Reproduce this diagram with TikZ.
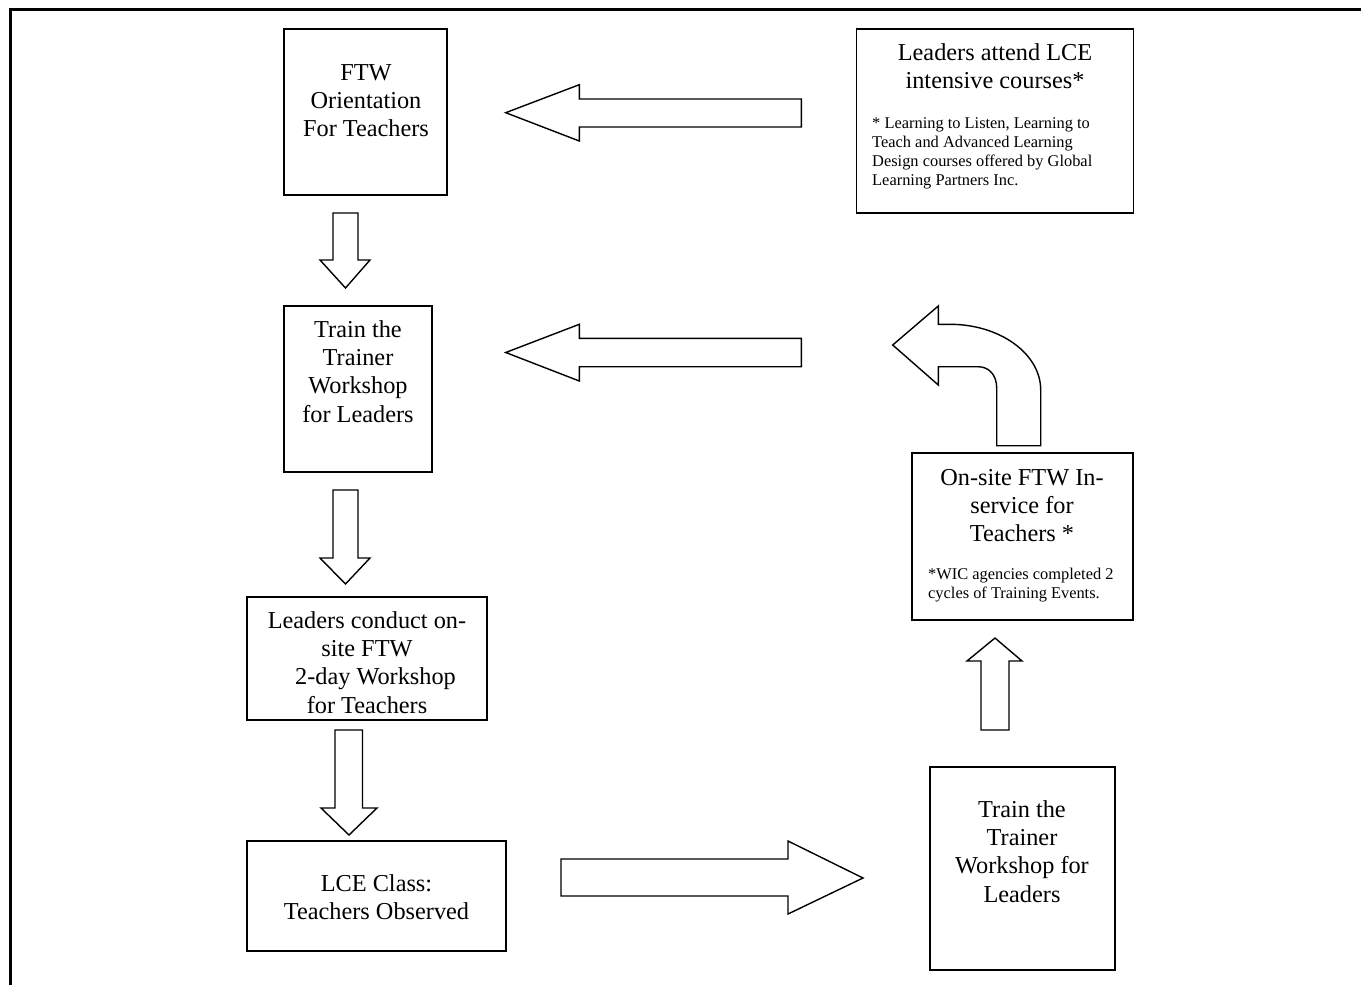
\documentclass[tikz,border=0pt]{standalone}
\usepackage{fontspec}
\setmainfont{Liberation Serif}
\begin{document}
\begin{tikzpicture}[x=1pt,y=-1pt,
  box/.style={draw, line width=1.4pt, inner sep=0pt, outer sep=0pt},
  big/.style={font=\fontsize{24.3}{28.4}\selectfont, align=center, inner sep=0pt, anchor=north},
  small/.style={font=\fontsize{16.4}{19}\selectfont, align=left, inner sep=0pt, anchor=north west},
  arr/.style={draw, line width=1.4pt, line join=miter, fill=white}]
\useasboundingbox (0,0) rectangle (1361,985);
\fill[white] (0,0) rectangle (1361,985);
% frame
\draw[line width=3pt] (1361,9) -- (10,9) -- (10,985);
% boxes
\node[box, minimum width=163, minimum height=166] (b1) at (365.5,112) {};
\node[box, minimum width=277, minimum height=184] (b2) at (995,121) {};
\node[box, minimum width=148, minimum height=166] (b3) at (358,389) {};
\node[box, minimum width=240, minimum height=123] (b4) at (367,658.5) {};
\node[box, minimum width=259, minimum height=110] (b5) at (376.5,896) {};
\node[box, minimum width=221, minimum height=167] (b6) at (1022.5,536.5) {};
\node[box, minimum width=185, minimum height=203] (b7) at (1022.5,868.5) {};
% texts
\node[big] (t1) at (366,60.1) {\strut FTW\\Orientation\\For Teachers};
\node[big] (t2) at (995,40.1) {\strut Leaders attend LCE\\intensive courses*};
\node[small] (s2) at (872,114.7) {\strut * Learning to Listen, Learning to\\Teach and Advanced Learning\\Design courses offered by Global\\Learning Partners Inc.};
\node[big] (t3) at (358,317.1) {\strut Train the\\Trainer\\Workshop\\for Leaders};
\node[big] (t4) at (367,608.1) {\strut Leaders conduct on-\\site FTW\\\hspace*{17pt}2-day Workshop\\for Teachers};
\node[big] (t5) at (376.5,871.1) {\strut LCE Class:\\Teachers Observed};
\node[big] (t6) at (1022,465.1) {\strut On-site FTW In-\\service for\\Teachers *};
\node[small] (s6) at (928,565.7) {\strut *WIC agencies completed 2\\cycles of Training Events.};
\node[big] (t7) at (1022,797.1) {\strut Train the\\Trainer\\Workshop for\\Leaders};
% block arrows
\draw[arr] (333,213) -- (358,213) -- (358,260) -- (370,260) -- (345.5,288) -- (320,260) -- (333,260) -- cycle;
\draw[arr] (333,490) -- (358,490) -- (358,558) -- (370,558) -- (345.5,584) -- (320,558) -- (333,558) -- cycle;
\draw[arr] (335,730) -- (362.5,730) -- (362.5,808) -- (377,808) -- (349,835) -- (321,808) -- (335,808) -- cycle;
\draw[arr] (981,730) -- (1009,730) -- (1009,661) -- (1022,661) -- (995,638) -- (967,661) -- (981,661) -- cycle;
\draw[arr] (561,859) -- (788,859) -- (788,841) -- (863,878) -- (788,914) -- (788,896) -- (561,896) -- cycle;
\draw[arr] (801.3,99) -- (579.3,99) -- (579.3,84.7) -- (505.7,112.7) -- (579.3,141) -- (579.3,127) -- (801.3,127) -- cycle;
\draw[arr] (801.3,338.3) -- (579.3,338.3) -- (579.3,324.3) -- (505.7,352.5) -- (579.3,381) -- (579.3,366.7) -- (801.3,366.7) -- cycle;
% curved arrow
\draw[arr] (996.7,445.7) -- (996.7,388) .. controls (996.7,375) and (989,366.7) .. (978,366.7)
  -- (938.3,366.7) -- (938.3,385) -- (892.7,345) -- (938.3,306) -- (938.3,324.3) -- (950,324.3)
  .. controls (999.7,324.3) and (1040.7,353.6) .. (1040.7,390) -- (1040.7,445.7) -- cycle;
\end{tikzpicture}
\end{document}
